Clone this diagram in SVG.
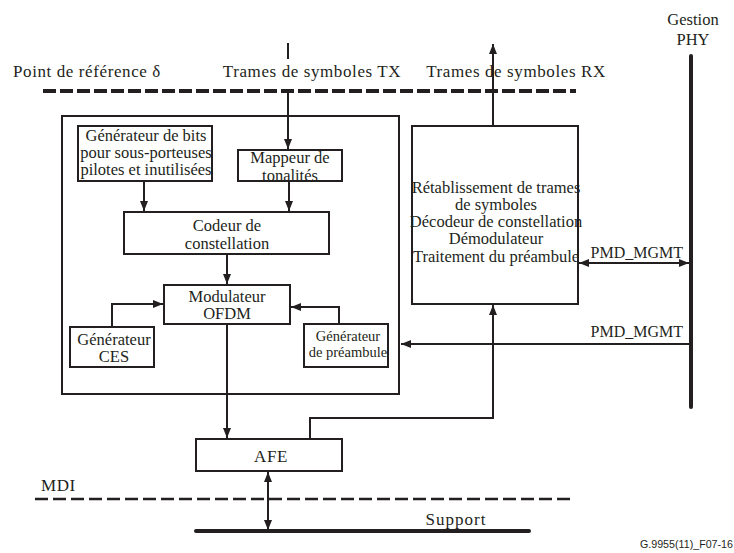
<svg xmlns="http://www.w3.org/2000/svg" width="734" height="553" viewBox="0 0 734 553">
  <style>
    .box { fill: #ffffff; stroke: #231f20; stroke-width: 2; }
    .ln { fill: none; stroke: #231f20; stroke-width: 2; }
    .thick { fill: none; stroke: #231f20; stroke-width: 4; stroke-linecap: round; }
    .dash1 { fill: none; stroke: #231f20; stroke-width: 4; stroke-dasharray: 13 4; }
    .dash2 { fill: none; stroke: #231f20; stroke-width: 2.5; stroke-dasharray: 13 5; }
    text { font-family: "Liberation Serif", "Times New Roman", serif; font-size: 16.5px; fill: #231f20; }
    .c { text-anchor: middle; }
    .lbl { font-size: 17px; letter-spacing: 0.6px; }
    .sm { font-size: 14.5px; }
    .mg { font-size: 16px; text-anchor: end; }
    .ref { font-family: "Liberation Sans", Arial, sans-serif; font-size: 10.7px; text-anchor: end; }
  </style>
  <defs>
    <marker id="ah" viewBox="0 0 10 8" refX="10" refY="4" markerWidth="10" markerHeight="8" markerUnits="userSpaceOnUse" orient="auto-start-reverse">
      <path d="M0,0 L10,4 L0,8 Z" fill="#231f20"/>
    </marker>
  </defs>

  <!-- reference planes, management bus and medium -->
  <g id="reference-lines">
    <line class="dash1" x1="43" y1="91" x2="576" y2="91"/>
    <line class="dash2" x1="35" y1="499" x2="572" y2="499"/>
    <line class="thick" x1="196" y1="531" x2="529" y2="531"/>
    <line class="thick" x1="691" y1="56" x2="691" y2="407"/>
    <text class="lbl" x="13" y="77">Point de référence δ</text>
    <text class="c lbl" x="312" y="77">Trames de symboles TX</text>
    <text class="c lbl" x="516" y="77">Trames de symboles RX</text>
    <text class="c" x="693" y="25">Gestion</text>
    <text class="c" x="693" y="45">PHY</text>
    <text class="lbl" x="41" y="491">MDI</text>
    <text class="c lbl" x="456" y="525" style="letter-spacing:1px">Support</text>
    <text class="ref" x="733" y="548">G.9955(11)_F07-16</text>
  </g>

  <!-- transmitter enclosure -->
  <g id="tx-block">
    <rect class="box" x="62" y="116" width="337" height="278"/>
  </g>

  <g id="bit-generator">
    <rect class="box" x="78" y="126" width="134" height="55"/>
    <text class="c" x="146" y="141">Générateur de bits</text>
    <text class="c" x="146" y="158">pour sous-porteuses</text>
    <text class="c" x="146" y="175">pilotes et inutilisées</text>
  </g>

  <g id="tone-mapper">
    <rect class="box" x="238" y="150" width="104" height="31"/>
    <text class="c" x="290" y="163">Mappeur de</text>
    <text class="c" x="290" y="181">tonalités</text>
  </g>

  <g id="constellation-encoder">
    <rect class="box" x="124" y="212" width="205" height="42"/>
    <text class="c" x="227" y="231">Codeur de</text>
    <text class="c" x="227" y="249">constellation</text>
  </g>

  <g id="ofdm-modulator">
    <rect class="box" x="164" y="285" width="126" height="39"/>
    <text class="c" x="227" y="302">Modulateur</text>
    <text class="c" x="227" y="319">OFDM</text>
  </g>

  <g id="ces-generator">
    <rect class="box" x="70" y="327" width="84" height="40"/>
    <text class="c" x="114" y="345">Générateur</text>
    <text class="c" x="114" y="362">CES</text>
  </g>

  <g id="preamble-generator">
    <rect class="box" x="304" y="324" width="84" height="43"/>
    <text class="c sm" x="348" y="341">Générateur</text>
    <text class="c sm" x="348" y="357">de préambule</text>
  </g>

  <g id="rx-block">
    <rect class="box" x="412" y="126" width="166" height="178"/>
    <text class="c" x="496" y="193">Rétablissement de trames</text>
    <text class="c" x="496" y="210">de symboles</text>
    <text class="c" x="496" y="227">Décodeur de constellation</text>
    <text class="c" x="496" y="244">Démodulateur</text>
    <text class="c" x="496" y="262">Traitement du préambule</text>
  </g>

  <g id="afe">
    <rect class="box" x="196" y="439" width="146" height="32"/>
    <text class="c lbl" x="271" y="462">AFE</text>
  </g>

  <!-- signal and management connectors -->
  <g id="connectors">
    <line class="ln" x1="288" y1="43" x2="288" y2="59"/>
    <line class="ln" x1="288" y1="89" x2="288" y2="149" marker-end="url(#ah)"/>
    <line class="ln" x1="493" y1="126" x2="493" y2="44" marker-end="url(#ah)"/>
    <line class="ln" x1="144" y1="181" x2="144" y2="211" marker-end="url(#ah)"/>
    <line class="ln" x1="289" y1="181" x2="289" y2="211" marker-end="url(#ah)"/>
    <line class="ln" x1="227" y1="254" x2="227" y2="284" marker-end="url(#ah)"/>
    <polyline class="ln" points="112,327 112,304 163,304" marker-end="url(#ah)"/>
    <polyline class="ln" points="339,324 339,307 291,307" marker-end="url(#ah)"/>
    <line class="ln" x1="227" y1="324" x2="227" y2="438" marker-end="url(#ah)"/>
    <polyline class="ln" points="310,439 310,418 494,418"/>
    <line class="ln" x1="493" y1="418" x2="493" y2="305" marker-end="url(#ah)"/>
    <line class="ln" x1="268" y1="472" x2="268" y2="530" marker-start="url(#ah)" marker-end="url(#ah)"/>
    <line class="ln" x1="579" y1="263" x2="689" y2="263" marker-start="url(#ah)" marker-end="url(#ah)"/>
    <line class="ln" x1="689" y1="344" x2="401" y2="344" marker-end="url(#ah)"/>
    <text class="mg" x="683" y="258">PMD_MGMT</text>
    <text class="mg" x="683" y="337">PMD_MGMT</text>
  </g>
</svg>
